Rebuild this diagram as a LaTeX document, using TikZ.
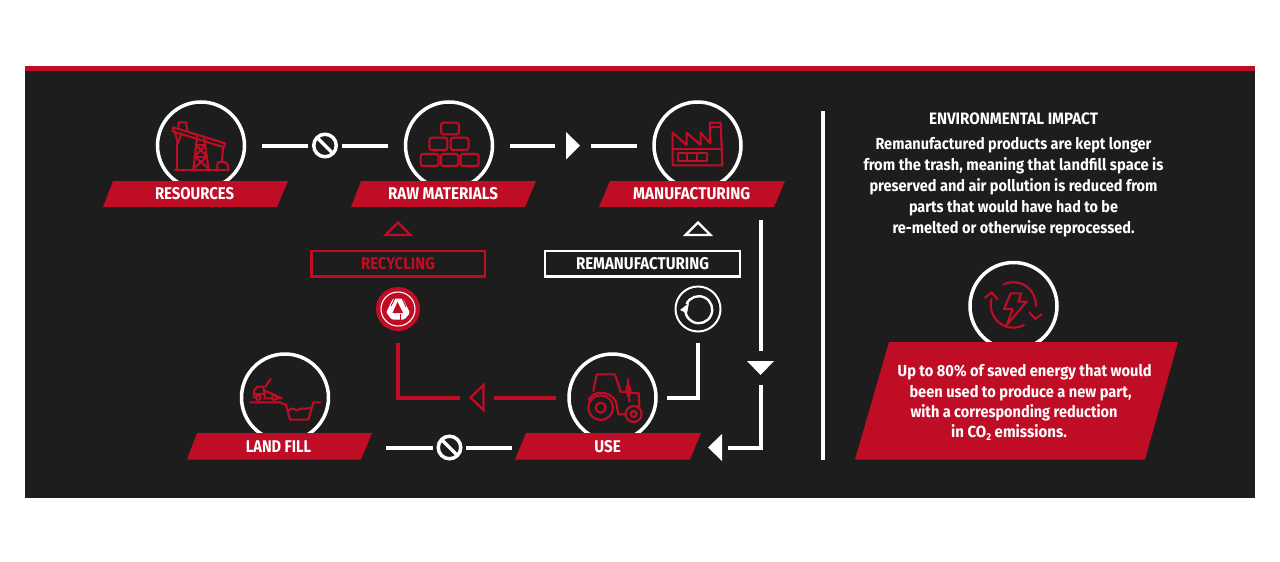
\documentclass[tikz,border=0pt]{standalone}
\usepackage{fontspec}
\usepackage{graphicx}
\setmainfont{Fira Sans}
\definecolor{bgdark}{HTML}{1D1D1D}
\definecolor{redc}{HTML}{C00D26}
\newcommand{\fw}[2]{\resizebox{#1pt}{\height}{#2}}
\tikzset{
 ring/.style={circle,draw=white,line width=3.5pt,minimum size=87pt,inner sep=0pt,outer sep=0pt},
 conn/.style={draw=white,line width=4pt},
 connred/.style={draw=redc,line width=4pt},
 ic/.style={draw=redc,line width=2.1pt,line join=round,line cap=round},
 lab/.style={text=white,font=\bfseries\fontsize{17}{20}\selectfont,inner sep=0pt,anchor=center},
 bodyt/.style={text=white,font=\bfseries\fontsize{16}{21}\selectfont,inner sep=0pt,anchor=center,align=center},
 bann/.style={fill=redc,draw=none},
 nosign/.style={circle,draw=white,fill=bgdark,line width=3.5pt,minimum size=22.5pt,inner sep=0pt,outer sep=0pt},
 tick/.style={inner sep=0pt,outer sep=0pt,draw=none},
 box/.style={rectangle,line width=2.5pt,fill=bgdark,inner sep=0pt,outer sep=0pt,minimum height=25.5pt},
 zm/.style={x=0.33333pt,y=-0.33333pt}
}
\begin{document}
\begin{tikzpicture}[x=1pt,y=-1pt]
\useasboundingbox (0,0) rectangle (1280,562);
\fill[white] (0,0) rectangle (1280,562);
\fill[bgdark] (25,66) rectangle (1255,498);
\fill[redc] (25,66) rectangle (1255,71);

% rings
\node[ring] (res) at (201,145.5) {};
\node[ring] (raw) at (449,145.5) {};
\node[ring] (mfg) at (697.5,145.5) {};
\node[ring] (fill) at (285,397.5) {};
\node[ring] (use) at (612.5,397.5) {};
\node[ring] (nrg) at (1013.5,306) {};

% banners
\fill[bann] (113,181) -- (288,181) -- (277,207) -- (103,207) -- cycle;
\fill[bann] (361,181) -- (536,181) -- (525,207) -- (351,207) -- cycle;
\fill[bann] (610,181) -- (785,181) -- (774,207) -- (599,207) -- cycle;
\fill[bann] (197,433) -- (372,433) -- (361,459.5) -- (187,459.5) -- cycle;
\fill[bann] (526,433) -- (701,433) -- (690,459.5) -- (515,459.5) -- cycle;
\fill[bann] (889,342) -- (1178,342) -- (1145,459.5) -- (855,459.5) -- cycle;

\node[lab] (tres) at (194.5,194) {\fw{79}{RESOURCES}};
\node[lab] (traw) at (443,194) {\fw{110}{RAW MATERIALS}};
\node[lab] (tmfg) at (691.7,194) {\fw{117}{MANUFACTURING}};
\node[lab] (tfill) at (278.5,447) {\fw{65}{LAND FILL}};
\node[lab] (tuse) at (607.5,447) {\fw{26.5}{USE}};

% process boxes
\node[box,draw=redc,minimum width=173.5pt] (recy) at (398,263.5) {};
\node[lab,text=redc] (trecy) at (398,263.7) {\fw{74}{RECYCLING}};
\node[box,draw=white,minimum width=195pt] (rema) at (642.5,263.5) {};
\node[lab] (trema) at (642.5,263.7) {\fw{133}{REMANUFACTURING}};

% up triangles over boxes
\draw[redc,line width=2.2pt,line join=miter] (398,222.5) -- (385.5,235) -- (410.5,235) -- cycle;
\draw[white,line width=2.2pt,line join=miter] (698,222.5) -- (685.5,235) -- (710.5,235) -- cycle;

% stop signs
\node[nosign] (st1) at (325,145.5) {};
\draw[white,line width=3.5pt] (st1.north west) -- (st1.south east);
\node[nosign] (st2) at (449.5,447.5) {};
\draw[white,line width=3.5pt] (st2.north west) -- (st2.south east);

% triangle markers
\node[tick,minimum width=14pt,minimum height=28pt] (trR) at (573,145.5) {};
\fill[white] (566,132) -- (580,145.5) -- (566,159.5) -- cycle;
\node[tick,minimum width=15pt,minimum height=28pt] (trL) at (476.5,397.5) {};
\draw[redc,line width=2.2pt,line join=miter] (470.5,397.5) -- (483.5,385) -- (483.5,410) -- cycle;
\node[tick,minimum width=27pt,minimum height=14pt] (trD) at (760.5,368) {};
\fill[white] (747,361) -- (774,361) -- (760.5,375) -- cycle;
\node[tick,minimum width=14pt,minimum height=27pt] (trW) at (715,447.5) {};
\fill[white] (708,447.5) -- (722,434) -- (722,461) -- cycle;

% recycling icon
\node[circle,fill=redc,minimum size=44pt,inner sep=0pt,outer sep=0pt] (reci) at (398,309) {};
\draw[white,line width=1.1pt] (reci) circle (17pt);
\begin{scope}[shift={(398,309)}]
 \fill[white,rounded corners=1.5pt] (-5,-10.5) -- (5,-10.5) -- (12,4) -- (6.5,10.5) -- (-6.5,10.5) -- (-12,4) -- cycle;
 \fill[redc] (-0.5,-7) -- (-5.5,4) -- (5,4) -- cycle;
 \draw[redc,line width=0.9pt] (-3,-11) -- (-7,-3);
 \draw[redc,line width=0.9pt] (4,-11) -- (8,-2);
 \draw[redc,line width=0.9pt] (-12,4) -- (-7,11);
 \draw[redc,line width=0.9pt] (2,5) -- (2,11);
\end{scope}

% remanufacturing icon
\node[circle,draw=white,line width=2pt,fill=bgdark,minimum size=45pt,inner sep=0pt,outer sep=0pt] (remi) at (698,309) {};
\draw[white,line width=2.4pt] (686.5,304) arc[start angle=155,end angle=-175,radius=13.5pt];
\fill[white] (680,310) -- (689,303) -- (687,313.5) -- cycle;

% connectors
\draw[conn,shorten <=17.5pt,shorten >=5.5pt] (res) -- (st1);
\draw[conn,shorten <=5.5pt,shorten >=17.5pt] (st1) -- (raw);
\draw[conn,shorten <=17pt,shorten >=11pt] (raw) -- (trR);
\draw[conn,shorten <=11pt,shorten >=17pt] (trR) -- (mfg);
\coordinate (mfgout) at (760.5,220);
\draw[conn,shorten >=10pt] (mfgout) -- (trD);
\draw[conn,shorten <=10pt,shorten >=6pt,line join=miter] (trD) |- (trW);
\coordinate (fillout) at (386,447.5);
\draw[conn,shorten >=5.5pt] (fillout) -- (st2);
\coordinate (usein) at (512,447.5);
\draw[conn,shorten <=5.5pt] (st2) -- (usein);
\draw[connred,shorten <=12pt,shorten >=9pt,line join=miter] (reci) |- (trL);
\draw[connred,shorten <=10pt,shorten >=13.5pt] (trL) -- (use);
\draw[conn,shorten <=11pt,shorten >=10.5pt,line join=miter] (remi) |- (use);

% divider
\coordinate (divtop) at (823,111);
\coordinate (divbot) at (823,459.5);
\draw[white,line width=3.5pt] (divtop) -- (divbot);

% oil pump
\begin{scope}[shift={(100,90)},zm]
 \draw[ic] (225,240) -- (385,240);
 \draw[ic] (220,112) -- (375,160) -- (372,172) -- (218,124) -- cycle;
 \draw[ic] (236,110) -- (236,97) -- (258,97) -- (262,122);
 \draw[ic] (224,124) -- (234,160) -- (244,130);
 \draw[ic] (231,160) -- (231,240);
 \draw[ic] (292,135) -- (280,240) (312,140) -- (326,240);
 \draw[ic] (288,165) -- (316,165) (284,200) -- (321,200);
 \draw[ic] (288,165) -- (321,200) -- (281,236) (316,165) -- (284,200) -- (326,236);
 \draw[ic] (369,170) -- (366,215);
 \draw[ic,rounded corners=2pt] (352,240) -- (352,216) -- (380,216) -- (386,240);
\end{scope}

% bricks
\begin{scope}[shift={(390,90)},zm]
 \foreach \xa/\ya/\xb/\yb in {153/98/207/133,118/143/172/180,182/143/236/180,92/192/146/228,153/192/205/228,212/192/266/228}{
  \draw[ic,rounded corners=2.5pt] (\xa,\ya) rectangle (\xb,\yb);
 }
\end{scope}

% factory
\begin{scope}[shift={(390,90)},zm]
 \draw[ic] (848,226) -- (848,128) -- (890,165) -- (890,128) -- (932,165) -- (932,128) -- (960,160) -- (960,98) -- (992,98) -- (997,226) -- cycle;
 \draw[ic] (960,112) -- (992,112);
 \draw[ic] (848,178) -- (995,178);
 \draw[ic] (865,188) rectangle (950,212);
 \draw[ic] (890,188) -- (890,212) (922,188) -- (922,212);
\end{scope}

% land fill
\begin{scope}[shift={(180,345)},zm]
 \draw[ic] (210,172) -- (300,172) -- (318,180) -- (330,224) -- (385,224) -- (400,172) -- (420,172);
 \draw[ic] (326,196) .. controls (340,182) and (345,200) .. (355,194) .. controls (365,186) and (375,196) .. (390,188);
 \draw[ic] (222,158) -- (222,136) -- (232,125) -- (250,125) -- (255,155);
 \draw[ic] (222,146) -- (252,146);
 \draw[ic] (252,136) -- (305,160) -- (252,160);
 \draw[ic] (256,125) -- (272,102);
 \draw[ic,fill=bgdark] (235,158) circle[radius=7];
 \draw[ic,fill=bgdark] (283,158) circle[radius=7];
\end{scope}

% tractor
\begin{scope}[shift={(510,345)},zm]
 \draw[ic] (272,188) circle[radius=37];
 \draw[ic] (272,188) circle[radius=15];
 \draw[ic] (371,207) circle[radius=24];
 \draw[ic] (371,207) circle[radius=9];
 \draw[ic] (250,138) -- (260,88) -- (315,88) -- (332,140) -- (386,145) -- (388,185);
 \draw[ic] (236,165) .. controls (250,135) and (300,135) .. (318,170) -- (325,208) -- (347,208);
 \draw[ic] (354,102) -- (358,170);
 \draw[ic] (354,118) -- (362,135) -- (356,155) -- (349,135) -- cycle;
\end{scope}

% energy icon
\begin{scope}[shift={(850,255)},zm]
 \draw[ic] (482,115) -- (514,115) -- (505,140) -- (530,140) -- (470,210) -- (488,162) -- (462,162) -- cycle;
 \draw[ic] (461,88) arc[start angle=-115,end angle=3,radius=68];
 \draw[ic] (538,172) -- (556,192) -- (575,178);
 \draw[ic] (522,210) arc[start angle=62,end angle=195,radius=68];
 \draw[ic] (405,128) -- (425,112) -- (442,132);
\end{scope}

% text right
\node[lab,font=\bfseries\fontsize{16.5}{20}\selectfont] (title) at (1013.5,118.5) {\fw{169}{ENVIRONMENTAL IMPACT}};
\node[bodyt] (desc) at (1013.5,187) {\fw{276}{Remanufactured products are kept longer}\\
\fw{300}{from the trash, meaning that landfill space is}\\
\fw{288}{preserved and air pollution is reduced from}\\
\fw{209}{parts that would have had to be}\\
\fw{242}{re-melted or otherwise reprocessed.}};

\node[bodyt] (b1) at (1024.7,372.7) {\fw{254}{Up to 80\% of saved energy that would}};
\node[bodyt] (b2) at (1020.5,392.7) {\fw{222}{been used to produce a new part,}};
\node[bodyt] (b3) at (1014,412.7) {\fw{207}{with a corresponding reduction}};
\node[bodyt] (b4) at (1009,432.7) {\fw{116}{in CO\raisebox{-3pt}{\fontsize{10}{10}\selectfont 2} emissions.}};
\end{tikzpicture}
\end{document}
